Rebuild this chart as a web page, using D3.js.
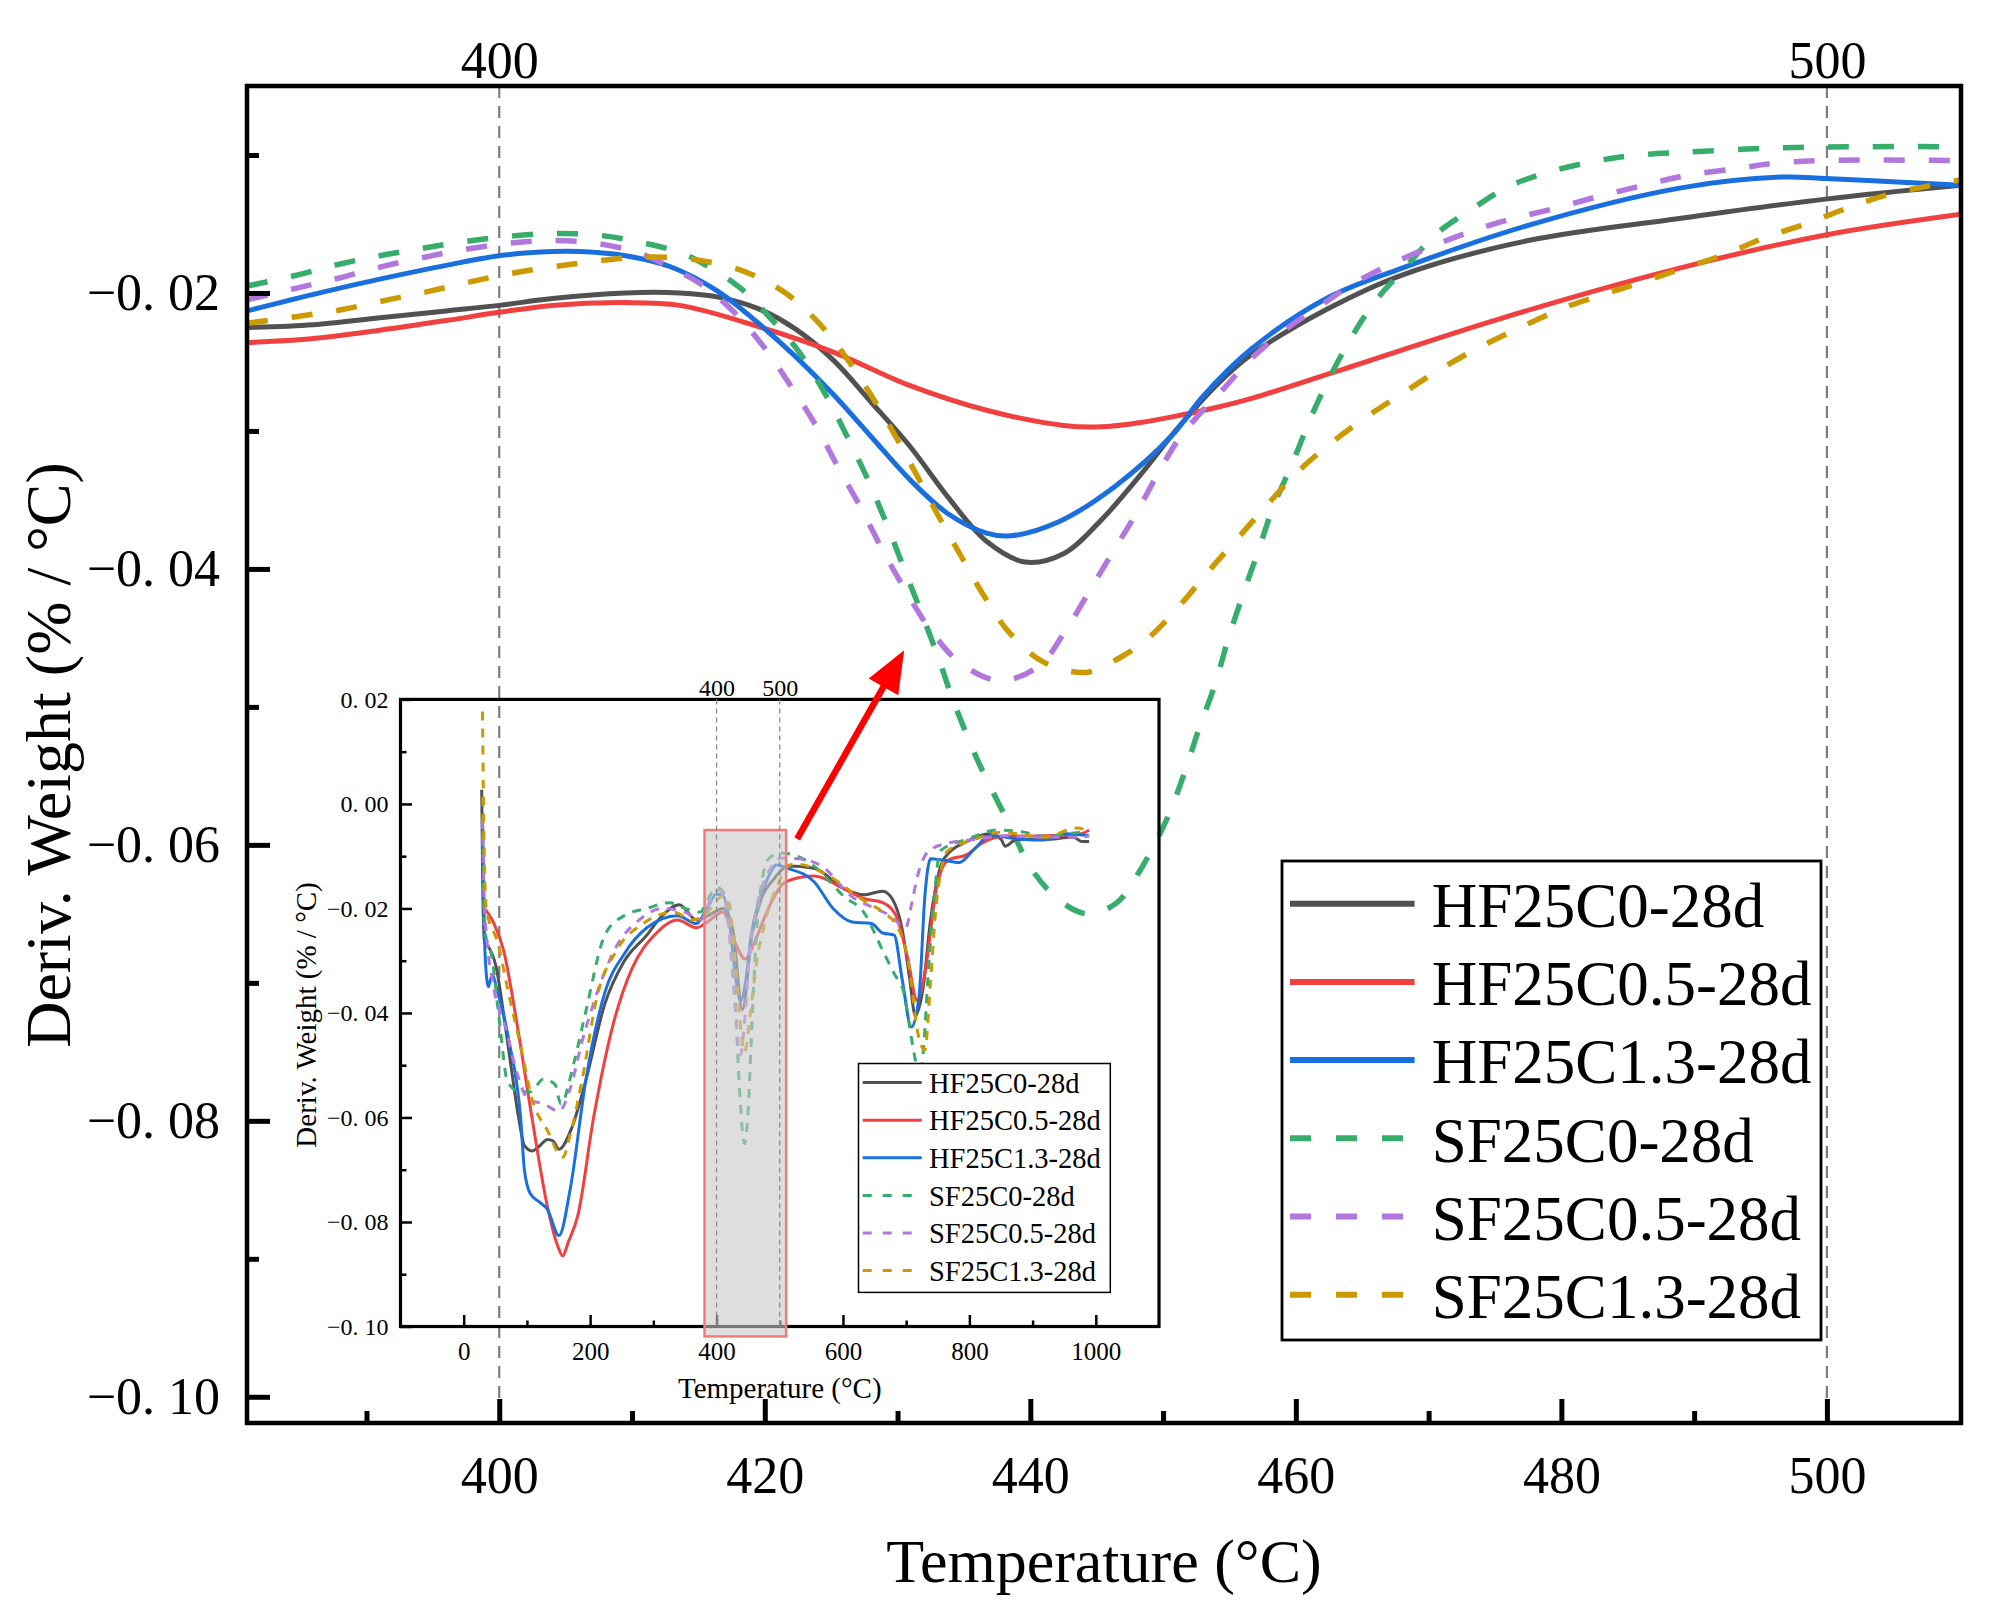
<!DOCTYPE html>
<html lang="en">
<head>
  <meta charset="UTF-8">
  <title>DTG 28d</title>
  <script src="https://d3js.org/d3.v7.min.js"></script>
  <style>
    body { margin: 0; background: #fff; }
    text { font-family: "Liberation Serif", "Times New Roman", serif; fill: #000; }
    .axis .domain { display: none; }
  </style>
</head>
<body>
<svg id="chart" width="1991" height="1610"></svg>
<script>
// ---- data ----
const seriesNames = ["HF25C0-28d", "HF25C0.5-28d", "HF25C1.3-28d", "SF25C0-28d", "SF25C0.5-28d", "SF25C1.3-28d"];
const seriesColors = ["#515151", "#F14040", "#1A6FDF", "#37AD6B", "#B177DE", "#CC9900"];
const seriesDashed = [false, false, false, true, true, true];

// main panel (zoom on 381-510 °C): [temperature, deriv. weight]
const hf0Zoom = [[381,-0.0225],[386,-0.0223],[391,-0.0218],[396,-0.0213],[400,-0.0209],[404,-0.0204],[409.5,-0.0200],[413.6,-0.0200],[416.5,-0.0203],[419.4,-0.0211],[422.3,-0.0226],[425.2,-0.0249],[428,-0.0279],[431,-0.0312],[433.8,-0.0348],[436.7,-0.0380],[439.6,-0.0395],[442.5,-0.0389],[445.3,-0.0365],[448.2,-0.0333],[451.1,-0.0298],[454,-0.0267],[456.6,-0.0245],[462.3,-0.0212],[468,-0.0187],[477.5,-0.0162],[488.9,-0.0146],[499.9,-0.0132],[510.1,-0.0122]];
const hf05Zoom = [[381,-0.0236],[386,-0.0233],[391,-0.0227],[396,-0.0220],[400,-0.0214],[404,-0.0209],[409.5,-0.0207],[413.6,-0.0209],[419.4,-0.0224],[425.2,-0.0243],[430.9,-0.0267],[436.7,-0.0285],[442.5,-0.0296],[445.3,-0.0297],[448.2,-0.0294],[451.1,-0.0289],[454,-0.0283],[456.8,-0.0276],[463,-0.0257],[475.6,-0.0218],[488.9,-0.0182],[499.9,-0.0158],[510.1,-0.0143]];
const hf13Zoom = [[381,-0.0213],[386,-0.0201],[391,-0.0190],[396,-0.0180],[400,-0.0173],[404,-0.0170],[406.1,-0.0170],[409.5,-0.0173],[412.9,-0.0181],[416.5,-0.0199],[419.4,-0.0221],[422.3,-0.0246],[425.2,-0.0274],[428,-0.0304],[430.9,-0.0335],[433.8,-0.0360],[436.7,-0.0374],[438.5,-0.0376],[442.1,-0.0366],[446.4,-0.0340],[450.7,-0.0303],[453,-0.0275],[456.6,-0.0241],[462.3,-0.0204],[468,-0.0182],[477.5,-0.0151],[488.9,-0.0124],[496.5,-0.0116],[499.9,-0.0117],[506,-0.0120],[510.1,-0.0122]];
const sf0Zoom = [[381,-0.0195],[384.8,-0.0187],[388,-0.0179],[391,-0.0173],[394,-0.0168],[397.2,-0.0163],[400.6,-0.0159],[403.9,-0.0157],[407.3,-0.0158],[410.5,-0.0163],[413.7,-0.0171],[415.4,-0.0179],[418.1,-0.0196],[420.4,-0.0218],[422.6,-0.0243],[424.6,-0.0274],[426.2,-0.0304],[427.8,-0.0336],[429.2,-0.0368],[430.5,-0.0400],[431.8,-0.0432],[433.1,-0.0465],[434.1,-0.0493],[436,-0.0538],[438.3,-0.0583],[440.2,-0.0619],[442.3,-0.0641],[444.3,-0.0650],[446.5,-0.0642],[448.3,-0.0618],[450.3,-0.0581],[451.6,-0.0548],[452.7,-0.0516],[453.9,-0.0484],[454.9,-0.0451],[456,-0.0419],[457.2,-0.0386],[458.3,-0.0355],[459.8,-0.0322],[461.1,-0.0291],[462.5,-0.0262],[464.2,-0.0232],[465.9,-0.0207],[468.2,-0.0182],[470.6,-0.0157],[473.3,-0.0139],[476,-0.0123],[479.2,-0.0112],[482.8,-0.0104],[485.8,-0.0100],[489.3,-0.0098],[495.7,-0.0095],[502.2,-0.0094],[510.1,-0.0094]];
const sf05Zoom = [[381,-0.0205],[384.5,-0.0197],[387.6,-0.0190],[390.7,-0.0182],[393.9,-0.0175],[397.1,-0.0169],[400.6,-0.0164],[403.9,-0.0162],[407.3,-0.0164],[410.5,-0.0171],[413.2,-0.0183],[415.4,-0.0195],[417.7,-0.0214],[420,-0.0240],[422,-0.0268],[423.9,-0.0297],[425.5,-0.0326],[427.2,-0.0355],[428.8,-0.0385],[430.5,-0.0414],[432.4,-0.0443],[434.7,-0.0468],[437.7,-0.0481],[440.7,-0.0470],[442.5,-0.0447],[444.4,-0.0417],[446.2,-0.0388],[447.9,-0.0361],[449.5,-0.0333],[451.1,-0.0307],[453,-0.0285],[454.6,-0.0269],[456.6,-0.0248],[459.3,-0.0226],[461.9,-0.0209],[464.2,-0.0194],[467.2,-0.0179],[470.3,-0.0166],[473.3,-0.0155],[476,-0.0147],[479.4,-0.0139],[482.8,-0.0130],[486.2,-0.0122],[489.3,-0.0115],[493.1,-0.0110],[496.1,-0.0106],[499.9,-0.0104],[510.1,-0.0104]];
const sf13Zoom = [[381,-0.0222],[384.8,-0.0217],[388.2,-0.0212],[391.6,-0.0205],[394.6,-0.0199],[397.8,-0.0192],[400.8,-0.0186],[404.1,-0.0181],[407.3,-0.0177],[410.7,-0.0174],[414.9,-0.0176],[418.6,-0.0185],[421.4,-0.0199],[423.8,-0.0219],[426,-0.0245],[428,-0.0274],[429.8,-0.0303],[431.5,-0.0333],[433.1,-0.0362],[434.8,-0.0391],[436.6,-0.0421],[438.4,-0.0446],[440.9,-0.0467],[444.2,-0.0475],[446.8,-0.0464],[448.9,-0.0450],[451.3,-0.0426],[453.4,-0.0402],[455.6,-0.0378],[457.9,-0.0353],[460.2,-0.0329],[462.9,-0.0307],[465.3,-0.0290],[468,-0.0273],[470.6,-0.0257],[473.5,-0.0241],[476.7,-0.0226],[480.1,-0.0211],[483.2,-0.0201],[485.8,-0.0193],[488.9,-0.0183],[492.3,-0.0172],[495.3,-0.0160],[498.4,-0.0150],[501.4,-0.0139],[504.5,-0.0129],[507.9,-0.0122],[510.1,-0.0118]];

// inset (whole run)
const hf0Full = [[28.5,0.0027],[30,-0.0150],[33,-0.0265],[40,-0.0275],[50.9,-0.0310],[66,-0.0427],[78.1,-0.0530],[87.2,-0.0603],[96.2,-0.0654],[108.3,-0.0664],[120.4,-0.0654],[132.5,-0.0642],[141.6,-0.0645],[150.7,-0.0661],[171.8,-0.0617],[193,-0.0530],[223.2,-0.0383],[253.4,-0.0302],[289.7,-0.0251],[313.9,-0.0214],[341.1,-0.0193],[368.3,-0.0222],[386.5,-0.0214],[410.6,-0.0200],[425.7,-0.0240],[440.9,-0.0394],[456,-0.0250],[471,-0.0180],[489.2,-0.0146],[513.4,-0.0119],[554.2,-0.0123],[602.6,-0.0163],[632.8,-0.0174],[663,-0.0167],[678.1,-0.0182],[693.2,-0.0237],[705.3,-0.0332],[714.4,-0.0405],[726.5,-0.0354],[738.6,-0.0222],[759.7,-0.0105],[796,-0.0072],[832.3,-0.0057],[850.4,-0.0068],[856.5,-0.0081],[874.6,-0.0068],[917,-0.0068],[965.3,-0.0064],[977.4,-0.0072],[989.5,-0.0072]];
const hf05Full = [[29.7,-0.0196],[47.9,-0.0229],[63,-0.0280],[84.2,-0.0420],[108.3,-0.0603],[132.5,-0.0771],[150,-0.0850],[156.7,-0.0865],[165,-0.0840],[180.9,-0.0786],[205.1,-0.0603],[235.3,-0.0427],[265.5,-0.0317],[301.8,-0.0251],[338.1,-0.0222],[368.3,-0.0237],[386.5,-0.0225],[410,-0.0207],[430,-0.0267],[445,-0.0297],[460,-0.0265],[475,-0.0220],[490,-0.0180],[505,-0.0153],[530,-0.0141],[554.2,-0.0138],[602.6,-0.0163],[632.8,-0.0181],[663,-0.0189],[684.2,-0.0214],[702.3,-0.0295],[717.4,-0.0376],[729.5,-0.0324],[747.6,-0.0163],[765.8,-0.0108],[796,-0.0097],[820.2,-0.0075],[856.5,-0.0062],[917,-0.0061],[977.4,-0.0057],[989.5,-0.0050]];
const hf13Full = [[29.7,-0.0017],[32.8,-0.0259],[38.8,-0.0350],[44.8,-0.0328],[53.9,-0.0361],[72,-0.0456],[90.2,-0.0603],[96,-0.0700],[105,-0.0745],[120,-0.0762],[132,-0.0775],[150.7,-0.0826],[168.8,-0.0735],[193,-0.0530],[223.2,-0.0361],[253.4,-0.0288],[289.7,-0.0237],[338.1,-0.0214],[368.3,-0.0229],[385,-0.0200],[400,-0.0173],[410,-0.0175],[420,-0.0222],[430,-0.0330],[438,-0.0376],[446,-0.0341],[455,-0.0250],[468,-0.0183],[480,-0.0145],[495,-0.0117],[511.9,-0.0123],[554.2,-0.0149],[584.4,-0.0200],[614.6,-0.0226],[644.9,-0.0229],[663,-0.0247],[681.1,-0.0251],[693.2,-0.0332],[708.4,-0.0427],[720.4,-0.0368],[729.5,-0.0178],[738.6,-0.0105],[759.7,-0.0108],[783.9,-0.0112],[808.1,-0.0086],[832.3,-0.0061],[886.7,-0.0068],[917,-0.0069],[953.2,-0.0057],[989.5,-0.0061]];
const sf0Full = [[29.7,0.0012],[32.8,-0.0237],[44.8,-0.0295],[56.9,-0.0420],[69,-0.0530],[87.2,-0.0551],[105.3,-0.0551],[126.5,-0.0526],[144.6,-0.0537],[153.6,-0.0574],[174.8,-0.0493],[193,-0.0398],[223.2,-0.0251],[253.4,-0.0214],[289.7,-0.0200],[326,-0.0189],[350.2,-0.0200],[374.3,-0.0207],[385,-0.0185],[401.6,-0.0160],[412,-0.0172],[420,-0.0218],[430.5,-0.0400],[436,-0.0538],[444.3,-0.0650],[450.3,-0.0581],[456,-0.0419],[462.5,-0.0262],[470.6,-0.0157],[483.2,-0.0104],[501.3,-0.0094],[530,-0.0101],[554.2,-0.0119],[602.6,-0.0178],[632.8,-0.0207],[663,-0.0281],[681.1,-0.0325],[696.3,-0.0361],[708.4,-0.0449],[716.2,-0.0500],[722,-0.0525],[728,-0.0460],[735.6,-0.0310],[744.6,-0.0178],[753.7,-0.0090],[796,-0.0068],[844.4,-0.0050],[886.7,-0.0054],[917,-0.0062],[953.2,-0.0057],[983.4,-0.0054]];
const sf05Full = [[29.7,-0.0031],[32.8,-0.0200],[47.9,-0.0354],[66,-0.0427],[84.2,-0.0515],[102.3,-0.0566],[126.5,-0.0574],[150.7,-0.0588],[168.8,-0.0544],[187,-0.0456],[211.1,-0.0361],[241.4,-0.0273],[277.7,-0.0222],[313.9,-0.0200],[350.2,-0.0207],[374.3,-0.0222],[390,-0.0185],[404.6,-0.0165],[415,-0.0193],[425,-0.0320],[437.7,-0.0481],[444.4,-0.0417],[451,-0.0307],[460,-0.0220],[470,-0.0166],[483.2,-0.0128],[501.3,-0.0104],[530,-0.0105],[566.3,-0.0119],[614.6,-0.0178],[651,-0.0200],[675.1,-0.0214],[699.3,-0.0237],[708.4,-0.0193],[717.4,-0.0141],[735.6,-0.0090],[765.8,-0.0075],[808.1,-0.0068],[856.5,-0.0061],[917,-0.0064],[977.4,-0.0064],[989.5,-0.0061]];
const sf13Full = [[29.7,0.0177],[31.5,-0.0017],[35.7,-0.0200],[53.9,-0.0266],[72,-0.0368],[90.2,-0.0464],[108.3,-0.0566],[132.5,-0.0625],[156.7,-0.0676],[168.8,-0.0632],[187,-0.0530],[211.1,-0.0368],[241.4,-0.0281],[283.7,-0.0229],[332,-0.0207],[362.3,-0.0222],[380.4,-0.0214],[410.6,-0.0176],[420,-0.0190],[430,-0.0310],[444.2,-0.0475],[453.4,-0.0402],[462.9,-0.0307],[476.7,-0.0226],[495.3,-0.0158],[519.4,-0.0116],[530,-0.0116],[572.3,-0.0134],[632.8,-0.0185],[663,-0.0207],[687.2,-0.0237],[702.3,-0.0295],[720.4,-0.0449],[729.5,-0.0471],[738.6,-0.0339],[747.6,-0.0193],[765.8,-0.0090],[808.1,-0.0068],[850.4,-0.0054],[917,-0.0064],[971.4,-0.0046],[989.5,-0.0054]];

const zoomSeries = [hf0Zoom, hf05Zoom, hf13Zoom, sf0Zoom, sf05Zoom, sf13Zoom];
const fullSeries = [hf0Full, hf05Full, hf13Full, sf0Full, sf05Full, sf13Full];

// ticks
const xDomainMain = [381, 510.1];
const yDomainMain = [-0.1019, -0.0050];
const xTicksMain = [400, 420, 440, 460, 480, 500];
const xMinorMain = [390, 410, 430, 450, 470, 490];
const yTicksMain = [-0.02, -0.04, -0.06, -0.08, -0.10];
const yMinorMain = [-0.01, -0.03, -0.05, -0.07, -0.09];
const markTemps = [400, 500];

const xDomainInset = [-100, 1100];
const yDomainInset = [-0.10, 0.02];
const xTicksInset = [0, 200, 400, 600, 800, 1000];
const xMinorInset = [100, 300, 500, 700, 900];
const yTicksInset = [0.02, 0.00, -0.02, -0.04, -0.06, -0.08, -0.10];
const yMinorInset = [0.01, -0.01, -0.03, -0.05, -0.07, -0.09];

// arrow: tail in inset units, head in main units
const arrowTail = [527.6, -0.0067];
const arrowHead = [430.5, -0.0459];

// ---- layout ----
const serif = '"Liberation Serif", "Times New Roman", serif';
const svg = d3.select("#chart");
const main = {left: 247, right: 1961, top: 86, bottom: 1423};
const inset = {left: 400.5, right: 1159, top: 699.4, bottom: 1326.5};

const x = d3.scaleLinear().domain(xDomainMain).range([main.left, main.right]);
const y = d3.scaleLinear().domain(yDomainMain).range([main.bottom, main.top]);
const xi = d3.scaleLinear().domain(xDomainInset).range([inset.left, inset.right]);
const yi = d3.scaleLinear().domain(yDomainInset).range([inset.bottom, inset.top]);

const fmt = d => d3.format(".2f")(d).replace("-", "\u2212").replace(".", ". ");
const intFmt = d3.format("d");

// style the tick labels of an axis group
function tickText(g, size) {
  g.attr("font-family", serif);
  g.selectAll("text").attr("font-family", serif).style("font-size", size + "px").attr("fill", "#000");
}

svg.append("rect").attr("width", 1991).attr("height", 1610).attr("fill", "#fff");

svg.append("clipPath").attr("id", "mainClip")
  .append("rect")
  .attr("x", main.left).attr("y", main.top)
  .attr("width", main.right - main.left).attr("height", main.bottom - main.top);

// dashed marker lines at 400 / 500 in main panel
markTemps.forEach(t => {
  svg.append("line")
    .attr("x1", x(t)).attr("x2", x(t))
    .attr("y1", main.top).attr("y2", main.bottom)
    .attr("stroke", "#7f7f7f").attr("stroke-width", 2.2)
    .attr("stroke-dasharray", "12,8");
});

// main curves
const lineMain = d3.line().x(d => x(d[0])).y(d => y(d[1])).curve(d3.curveCatmullRom.alpha(0.5));
const mainCurves = svg.append("g").attr("clip-path", "url(#mainClip)");
zoomSeries.forEach((s, i) => {
  mainCurves.append("path")
    .datum(s)
    .attr("fill", "none")
    .attr("stroke", seriesColors[i])
    .attr("stroke-width", seriesDashed[i] ? 5.5 : 5)
    .attr("stroke-dasharray", seriesDashed[i] ? "21,24" : null)
    .attr("d", lineMain);
});

// ---- inset ----
const insetG = svg.append("g");

const lineInset = d3.line().x(d => xi(d[0])).y(d => yi(d[1])).curve(d3.curveMonotoneX);
fullSeries.forEach((s, i) => {
  insetG.append("path")
    .datum(s)
    .attr("fill", "none")
    .attr("stroke", seriesColors[i])
    .attr("stroke-width", 3)
    .attr("stroke-dasharray", seriesDashed[i] ? "9,8" : null)
    .attr("d", lineInset);
});

// inset axes
insetG.append("g").attr("class", "axis")
  .attr("transform", `translate(0,${inset.bottom})`)
  .call(d3.axisBottom(xi).tickValues(xTicksInset).tickSizeInner(-11.5).tickSizeOuter(0).tickPadding(16).tickFormat(intFmt))
  .call(g => g.selectAll(".tick line").attr("stroke-width", 2.5))
  .call(g => tickText(g, 25));
insetG.append("g").attr("class", "axis")
  .attr("transform", `translate(0,${inset.bottom})`)
  .call(d3.axisBottom(xi).tickValues(xMinorInset).tickSizeInner(-6).tickSizeOuter(0).tickFormat(""))
  .call(g => g.selectAll(".tick line").attr("stroke-width", 2.5));
insetG.append("g").attr("class", "axis")
  .attr("transform", `translate(${inset.left},0)`)
  .call(d3.axisLeft(yi).tickValues(yTicksInset).tickSizeInner(-11.5).tickSizeOuter(0).tickPadding(12).tickFormat(fmt))
  .call(g => g.selectAll(".tick line").attr("stroke-width", 2.5))
  .call(g => tickText(g, 24));
insetG.append("g").attr("class", "axis")
  .attr("transform", `translate(${inset.left},0)`)
  .call(d3.axisLeft(yi).tickValues(yMinorInset).tickSizeInner(-6).tickSizeOuter(0).tickFormat(""))
  .call(g => g.selectAll(".tick line").attr("stroke-width", 2.5));
insetG.append("g").attr("class", "axis")
  .attr("transform", `translate(0,${inset.top})`)
  .call(d3.axisTop(xi).tickValues(markTemps).tickSize(0).tickPadding(3).tickFormat(intFmt))
  .call(g => tickText(g, 24));

insetG.append("rect")
  .attr("x", inset.left).attr("y", inset.top)
  .attr("width", inset.right - inset.left).attr("height", inset.bottom - inset.top)
  .attr("fill", "none").attr("stroke", "#000").attr("stroke-width", 3.2);

// shaded zoom window = main panel domain
insetG.append("rect")
  .attr("x", xi(xDomainMain[0])).attr("y", yi(yDomainMain[1]))
  .attr("width", xi(xDomainMain[1]) - xi(xDomainMain[0]))
  .attr("height", yi(yDomainMain[0]) - yi(yDomainMain[1]))
  .attr("fill", "#c8c8c8").attr("fill-opacity", 0.6)
  .attr("stroke", "#f27a7a").attr("stroke-width", 2.5);

markTemps.forEach(t => {
  insetG.append("line")
    .attr("x1", xi(t)).attr("x2", xi(t))
    .attr("y1", inset.top).attr("y2", inset.bottom)
    .attr("stroke", "#8a8a8a").attr("stroke-width", 1.3)
    .attr("stroke-dasharray", "5,4");
});

insetG.append("text")
  .attr("x", (inset.left + inset.right) / 2).attr("y", 1398)
  .attr("text-anchor", "middle").style("font-size", "29px")
  .text("Temperature (°C)");
insetG.append("text")
  .attr("transform", `translate(316,${(inset.top + inset.bottom) / 2 + 2}) rotate(-90)`)
  .attr("text-anchor", "middle").style("font-size", "29px")
  .text("Deriv. Weight (% / °C)");

// inset legend
const il = {x: 858.5, y: 1063.5, w: 251.8, h: 228.9, row0: 1082.6, step: 37.6};
insetG.append("rect")
  .attr("x", il.x).attr("y", il.y).attr("width", il.w).attr("height", il.h)
  .attr("fill", "#fff").attr("stroke", "#000").attr("stroke-width", 1.5);
seriesNames.forEach((name, i) => {
  const yy = il.row0 + i * il.step;
  insetG.append("line")
    .attr("x1", 862.7).attr("x2", 921.7).attr("y1", yy).attr("y2", yy)
    .attr("stroke", seriesColors[i]).attr("stroke-width", 3)
    .attr("stroke-dasharray", seriesDashed[i] ? "9,11" : null);
  insetG.append("text")
    .attr("x", 929).attr("y", yy).attr("dy", "0.36em")
    .style("font-size", "28.5px")
    .text(name);
});

// arrow from the shaded window to the main curves
const ax0 = xi(arrowTail[0]), ay0 = yi(arrowTail[1]);
const ax1 = x(arrowHead[0]), ay1 = y(arrowHead[1]);
const len = Math.hypot(ax1 - ax0, ay1 - ay0);
const ux = (ax1 - ax0) / len, uy = (ay1 - ay0) / len;
const headLen = 42, headHalf = 17;
const bx = ax1 - ux * headLen, by = ay1 - uy * headLen;
svg.append("line")
  .attr("x1", ax0).attr("y1", ay0).attr("x2", bx + ux * 4).attr("y2", by + uy * 4)
  .attr("stroke", "#ff0000").attr("stroke-width", 6.5);
svg.append("path")
  .attr("d", `M${ax1},${ay1}L${bx - uy * headHalf},${by + ux * headHalf}L${bx + uy * headHalf},${by - ux * headHalf}Z`)
  .attr("fill", "#ff0000");

// ---- main axes ----
svg.append("g").attr("class", "axis")
  .attr("transform", `translate(0,${main.bottom})`)
  .call(d3.axisBottom(x).tickValues(xTicksMain).tickSizeInner(-24).tickSizeOuter(0).tickPadding(33).tickFormat(intFmt))
  .call(g => g.selectAll(".tick line").attr("stroke-width", 5))
  .call(g => tickText(g, 52));
svg.append("g").attr("class", "axis")
  .attr("transform", `translate(0,${main.bottom})`)
  .call(d3.axisBottom(x).tickValues(xMinorMain).tickSizeInner(-12).tickSizeOuter(0).tickFormat(""))
  .call(g => g.selectAll(".tick line").attr("stroke-width", 5));
svg.append("g").attr("class", "axis")
  .attr("transform", `translate(${main.left},0)`)
  .call(d3.axisLeft(y).tickValues(yTicksMain).tickSizeInner(-23).tickSizeOuter(0).tickPadding(27).tickFormat(fmt))
  .call(g => g.selectAll(".tick line").attr("stroke-width", 5))
  .call(g => tickText(g, 52));
svg.append("g").attr("class", "axis")
  .attr("transform", `translate(${main.left},0)`)
  .call(d3.axisLeft(y).tickValues(yMinorMain).tickSizeInner(-12).tickSizeOuter(0).tickFormat(""))
  .call(g => g.selectAll(".tick line").attr("stroke-width", 5));
svg.append("g").attr("class", "axis")
  .attr("transform", `translate(0,${main.top})`)
  .call(d3.axisTop(x).tickValues(markTemps).tickSize(0).tickPadding(8).tickFormat(intFmt))
  .call(g => tickText(g, 52));

svg.append("rect")
  .attr("x", main.left).attr("y", main.top)
  .attr("width", main.right - main.left).attr("height", main.bottom - main.top)
  .attr("fill", "none").attr("stroke", "#000").attr("stroke-width", 4.5);

svg.append("text")
  .attr("x", 1104).attr("y", 1582)
  .attr("text-anchor", "middle").style("font-size", "62px")
  .text("Temperature (°C)");
svg.append("text")
  .attr("transform", "translate(70,755) rotate(-90)")
  .attr("text-anchor", "middle").style("font-size", "64px")
  .text("Deriv. Weight (% / °C)");

// main legend
const ml = {x: 1282, y: 861, w: 539, h: 479, row0: 903.7, step: 78.2};
svg.append("rect")
  .attr("x", ml.x).attr("y", ml.y).attr("width", ml.w).attr("height", ml.h)
  .attr("fill", "#fff").attr("stroke", "#000").attr("stroke-width", 2.8);
seriesNames.forEach((name, i) => {
  const yy = ml.row0 + i * ml.step;
  svg.append("line")
    .attr("x1", 1290).attr("x2", 1414.6).attr("y1", yy).attr("y2", yy)
    .attr("stroke", seriesColors[i]).attr("stroke-width", 6)
    .attr("stroke-dasharray", seriesDashed[i] ? "21,25" : null);
  svg.append("text")
    .attr("x", 1431.8).attr("y", yy).attr("dy", "0.37em")
    .style("font-size", "63px")
    .text(name);
});
</script>
</body>
</html>
